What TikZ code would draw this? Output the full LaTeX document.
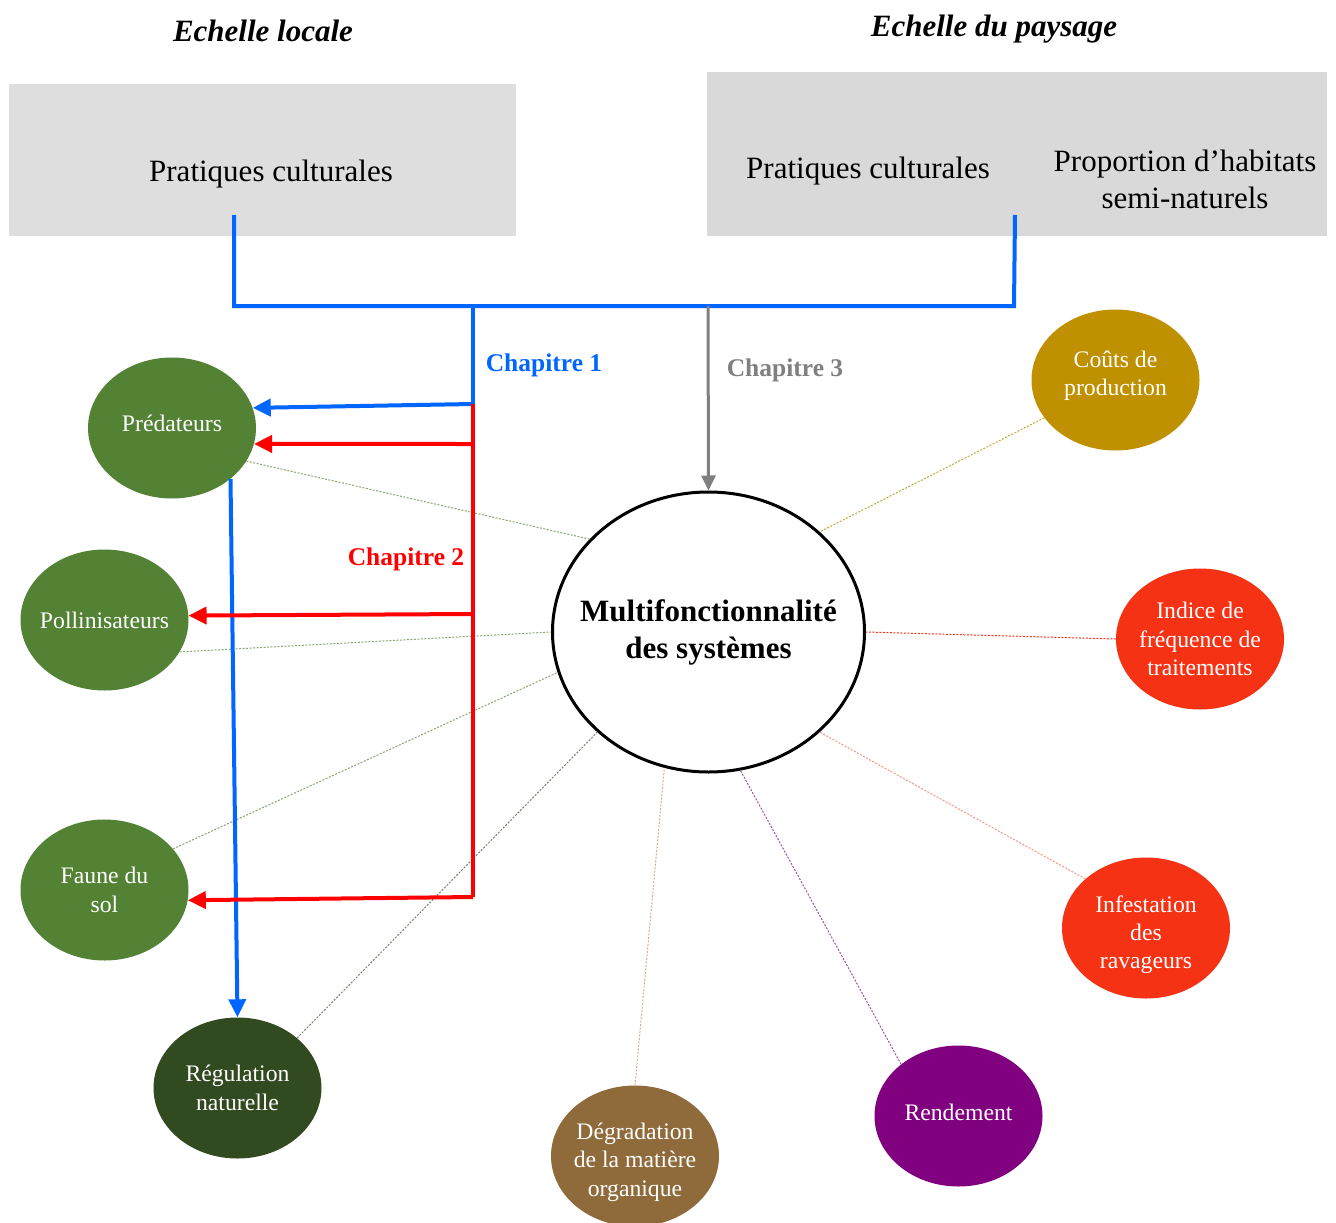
\documentclass[tikz,border=0pt]{standalone}
\usepackage{fontspec}
\setmainfont{Liberation Serif}
\usetikzlibrary{arrows.meta,shapes.geometric}
\definecolor{cblue}{RGB}{0,102,255}
\definecolor{cred}{RGB}{255,0,0}
\definecolor{cgrey}{RGB}{128,128,128}
\definecolor{boxl}{RGB}{222,222,222}
\definecolor{boxr}{RGB}{217,217,217}
\definecolor{cgreen}{RGB}{84,130,53}
\definecolor{cdark}{RGB}{50,74,32}
\definecolor{cgold}{RGB}{191,144,0}
\definecolor{corange}{RGB}{245,50,20}
\definecolor{cpurple}{RGB}{128,0,128}
\definecolor{cbrown}{RGB}{143,106,59}
\definecolor{cpink}{RGB}{248,150,130}
\definecolor{ctan}{RGB}{215,175,135}
\definecolor{cgreydot}{RGB}{120,130,110}
\newcommand{\updep}[1]{\rule[-#1]{0pt}{#1}}
\newcommand{\downht}[1]{\rule{0pt}{#1}}
\begin{document}
\begin{tikzpicture}[x=1pt,y=-1pt,
  greybox/.style={draw=none,inner sep=0pt,anchor=north west},
  bigtxt/.style={font=\fontsize{31}{37}\selectfont,align=center,inner sep=0pt},
  titletxt/.style={font=\fontsize{31}{37}\selectfont\bfseries\itshape,inner sep=0pt},
  chaptxt/.style={font=\fontsize{25.5}{30}\selectfont\bfseries,inner sep=0pt},
  oval/.style={ellipse,draw=none,minimum width=168pt,minimum height=141pt,
    inner xsep=-12pt,inner ysep=0pt,text=white,align=center,
    font=\fontsize{23.7}{28.4}\selectfont},
  central/.style={ellipse,draw=black,line width=3pt,fill=white,minimum width=312pt,
    minimum height=280pt,inner xsep=-30pt,inner ysep=0pt,align=center,
    font=\fontsize{31}{37}\selectfont\bfseries},
  bl/.style={draw=cblue,line width=4pt},
  rd/.style={draw=cred,line width=4pt},
  tri/.style={-{Triangle[length=18pt,width=17pt]}},
  dot/.style={line width=1pt,dash pattern=on 2pt off 1.5pt}
]
\useasboundingbox[fill=white] (0,0) rectangle (1336,1223);

% titles
\node[titletxt,anchor=base] (t1) at (263,42) {Echelle locale};
\node[titletxt,anchor=base] (t2) at (994,37) {Echelle du paysage};

% grey boxes
\node[greybox,fill=boxl,minimum width=507pt,minimum height=152pt] (lbox) at (9,84) {};
\node[greybox,fill=boxr,minimum width=620pt,minimum height=164pt] (rbox) at (707,72) {};
\node[bigtxt,anchor=base] (lpc) at (271,181) {Pratiques culturales};
\node[bigtxt,anchor=base] (rpc) at (868,178) {Pratiques culturales};
\node[bigtxt,anchor=base] (rph1) at (1185,171) {Proportion d’habitats};
\node[bigtxt,anchor=base] (rph2) at (1185,208) {semi-naturels};

% ellipses
\node[central] (multi) at (708.5,632) {Multifonctionnalité\\des systèmes};
\node[oval,fill=cgreen] (pred) at (172,428) {Prédateurs\updep{10pt}};
\node[oval,fill=cgreen] (pol) at (104.5,620) {Pollinisateurs};
\node[oval,fill=cgreen] (faune) at (104.5,890) {Faune du\\sol};
\node[oval,fill=cdark] (reg) at (237.5,1088) {Régulation\\naturelle};
\node[oval,fill=cgold] (cout) at (1115.5,380) {Coûts de\\production\updep{14pt}};
\node[oval,fill=corange] (ift) at (1200,639) {Indice de\\fréquence de\\traitements};
\node[oval,fill=corange] (inf) at (1146,928) {\downht{30pt}Infestation\\des\\ravageurs};
\node[oval,fill=cpurple] (rdt) at (958.5,1116) {Rendement\updep{8pt}};
\node[oval,fill=cbrown] (deg) at (635,1156) {\downht{29pt}Dégradation\\de la matière\\organique};

% dotted links
\draw[dot,draw=cgreen!70] (pred.-24) -- (multi.142);
\draw[dot,draw=cgreen!70] (pol.-23) -- (multi.180);
\draw[dot,draw=cgreen!70] (faune.31) -- (multi.-165);
\draw[dot,draw=cgreydot] (reg.40) -- (multi.-138);
\draw[dot,draw=ctan] (deg.90) -- (multi.-108);
\draw[dot,draw=cpurple!70] (rdt.138) -- (multi.-77);
\draw[dot,draw=cpink] (inf.141) -- (multi.-42);
\draw[dot,draw=corange] (ift.180) -- (multi.0);
\draw[dot,draw=cgold!80] (cout.-152) -- (multi.42);

% top blue bar
\coordinate (lb) at (234,215);
\coordinate (lbb) at (234,306);
\coordinate (rbb) at (1014,306);
\coordinate (rb) at (1015,215);
\draw[bl] (lb) -- (lbb) -- (rbb) -- (rb);

% chapitre 1
\coordinate (j0) at (473,306);
\coordinate (j1) at (473,404);
\draw[bl] (j0) -- (j1);
\draw[bl,tri] (j1) -- (pred.14);
\draw[bl,tri] (pred.-41) -- (reg.north);
\node[chaptxt,text=cblue] (c1) at (544,365) {Chapitre 1};

% chapitre 2
\coordinate (r2) at (473,444);
\coordinate (r3) at (473,614);
\coordinate (r4) at (473,897);
\draw[rd] (j1) -- (r4);
\draw[rd,tri] (r2) -- (pred.-11);
\draw[rd,tri] (r3) -- (pol.3);
\draw[rd,tri] (r4) -- (faune.-7);
\node[chaptxt,text=cred] (c2) at (406,559) {Chapitre 2};

% chapitre 3
\coordinate (g0) at (708,306);
\draw[draw=cgrey,line width=3pt,-{Triangle[length=15pt,width=14pt]}] (g0) -- (multi.north);
\node[chaptxt,text=cgrey] (c3) at (785,370) {Chapitre 3};
\end{tikzpicture}
\end{document}
